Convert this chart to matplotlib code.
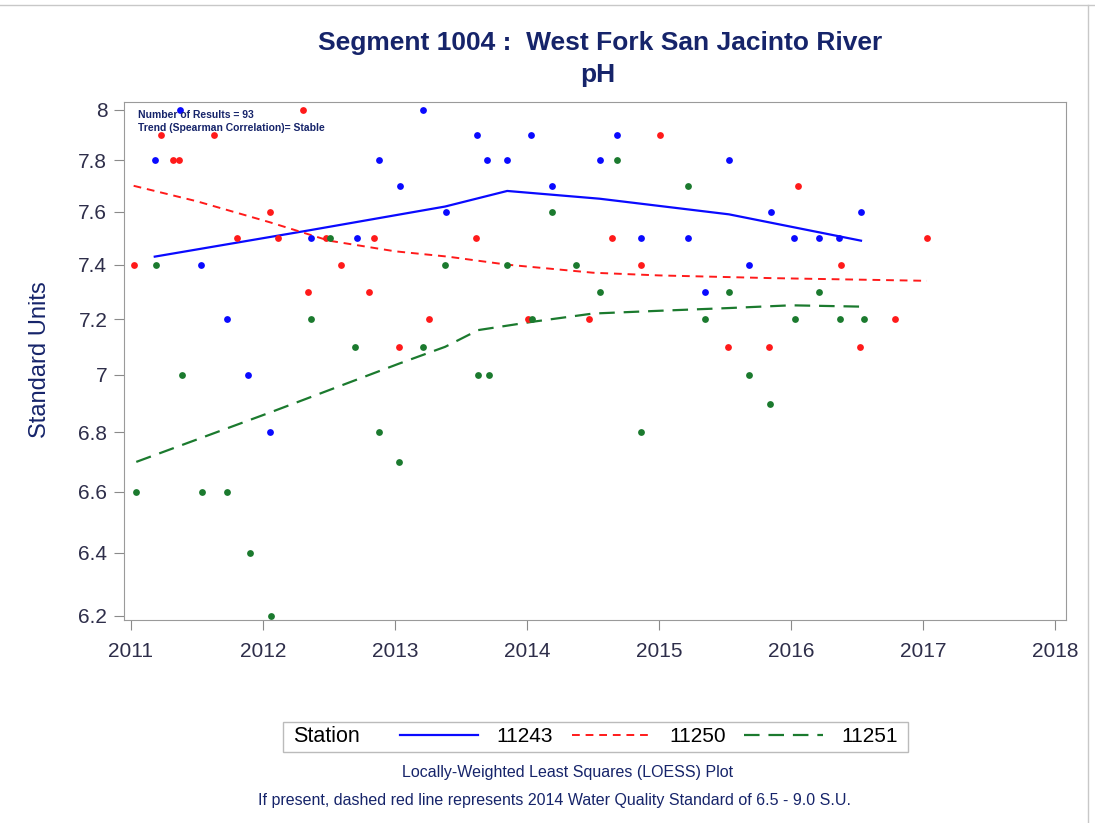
"""
Segment 1004 : West Fork San Jacinto River - pH con curvas LOESS por estacion.
"""
import matplotlib
matplotlib.use("Agg")
import matplotlib.pyplot as plt
from matplotlib.lines import Line2D
from matplotlib.patches import Rectangle
from matplotlib.ticker import FixedLocator, NullLocator

plt.rcParams['font.family'] = ['Liberation Sans', 'DejaVu Sans']

NAVY = '#16246a'

# --- datos (año decimal, pH) ---
fechas_11243 = [2011.18, 2011.37, 2011.53, 2011.73, 2011.89, 2012.05, 2012.36, 2012.71,
                2012.88, 2013.04, 2013.21, 2013.39, 2013.62, 2013.70, 2013.85, 2014.03,
                2014.19, 2014.55, 2014.68, 2014.86, 2015.22, 2015.35, 2015.53, 2015.68,
                2015.85, 2016.02, 2016.21, 2016.36, 2016.53]
ph_11243 = [7.8, 8.0, 7.4, 7.2, 7.0, 6.8, 7.5, 7.5,
            7.8, 7.7, 8.0, 7.6, 7.9, 7.8, 7.8, 7.9,
            7.7, 7.8, 7.9, 7.5, 7.5, 7.3, 7.8, 7.4,
            7.6, 7.5, 7.5, 7.5, 7.6]

fechas_11250 = [2011.02, 2011.23, 2011.32, 2011.36, 2011.63, 2011.80, 2012.05, 2012.11,
                2012.30, 2012.34, 2012.48, 2012.59, 2012.80, 2012.84, 2013.03, 2013.26,
                2013.61, 2014.01, 2014.47, 2014.64, 2014.86, 2015.01, 2015.52, 2015.83,
                2016.05, 2016.38, 2016.52, 2016.79, 2017.03]
ph_11250 = [7.4, 7.9, 7.8, 7.8, 7.9, 7.5, 7.6, 7.5,
            8.0, 7.3, 7.5, 7.4, 7.3, 7.5, 7.1, 7.2,
            7.5, 7.2, 7.2, 7.5, 7.4, 7.9, 7.1, 7.1,
            7.7, 7.4, 7.1, 7.2, 7.5]

fechas_11251 = [2011.04, 2011.19, 2011.39, 2011.54, 2011.73, 2011.90, 2012.06, 2012.36,
                2012.51, 2012.70, 2012.88, 2013.03, 2013.21, 2013.38, 2013.63, 2013.71,
                2013.85, 2014.04, 2014.19, 2014.37, 2014.55, 2014.68, 2014.86, 2015.22,
                2015.35, 2015.53, 2015.68, 2015.84, 2016.03, 2016.21, 2016.37, 2016.55]
ph_11251 = [6.6, 7.4, 7.0, 6.6, 6.6, 6.4, 6.2, 7.2,
            7.5, 7.1, 6.8, 6.7, 7.1, 7.4, 7.0, 7.0,
            7.4, 7.2, 7.6, 7.4, 7.3, 7.8, 6.8, 7.7,
            7.2, 7.3, 7.0, 6.9, 7.2, 7.3, 7.2, 7.2]

# curvas LOESS
loess_x_11243 = [2011.18, 2012.36, 2013.38, 2013.85, 2014.55, 2015.53, 2016.53]
loess_y_11243 = [7.43, 7.53, 7.62, 7.68, 7.65, 7.59, 7.49]

loess_x_11250 = [2011.02, 2011.5, 2012.05, 2012.5, 2013.0, 2013.4, 2013.85, 2014.5,
                 2015.0, 2015.85, 2017.03]
loess_y_11250 = [7.70, 7.64, 7.56, 7.49, 7.45, 7.43, 7.40, 7.37, 7.36, 7.35, 7.34]

loess_x_11251 = [2011.04, 2012.06, 2013.03, 2013.38, 2013.63, 2014.04, 2014.5, 2015.0,
                 2015.53, 2016.0, 2016.55]
loess_y_11251 = [6.70, 6.87, 7.04, 7.10, 7.16, 7.19, 7.22, 7.23, 7.24, 7.25, 7.245]

anios = [2011, 2012, 2013, 2014, 2015, 2016, 2017, 2018]
ticks_y = [6.2, 6.4, 6.6, 6.8, 7.0, 7.2, 7.4, 7.6, 7.8, 8.0]
etiquetas_y = ['6.2', '6.4', '6.6', '6.8', '7', '7.2', '7.4', '7.6', '7.8', '8']

estaciones = ['11243', '11250', '11251']
colores = ['#0a0aff', '#ff1a1a', '#1b7a2e']

fig = plt.figure(figsize=(10.95, 8.23), dpi=100)
ax = fig.add_axes([124 / 1095, 1 - 620 / 823, (1066 - 124) / 1095, (620 - 102) / 823])

ax.scatter(fechas_11243, ph_11243, s=24, color=colores[0], zorder=3, linewidths=0)
ax.scatter(fechas_11250, ph_11250, s=24, color=colores[1], zorder=3, linewidths=0)
ax.scatter(fechas_11251, ph_11251, s=24, color=colores[2], zorder=3, linewidths=0)

l1, = ax.plot(loess_x_11243, loess_y_11243, color=colores[0], lw=1.6, zorder=2)
l2, = ax.plot(loess_x_11250, loess_y_11250, color=colores[1], lw=1.4,
              dashes=(4, 3), zorder=2)
l3, = ax.plot(loess_x_11251, loess_y_11251, color=colores[2], lw=1.6,
              dashes=(7, 4), zorder=2)

ax.set_yscale('log')
ax.set_xlim(2010.947, 2018.083)
ax.set_ylim(6.187, 8.032)
ax.yaxis.set_major_locator(FixedLocator(ticks_y))
ax.yaxis.set_minor_locator(NullLocator())
ax.set_yticklabels(etiquetas_y)
ax.set_xticks(anios)
ax.set_xticklabels([str(a) for a in anios])
ax.tick_params(labelsize=15, labelcolor='#2e2e4a', length=7, color='#8a8a8a')
ax.tick_params(axis='y', pad=5)
ax.tick_params(axis='x', pad=9)
for sp in ax.spines.values():
    sp.set_color('#9a9a9a')

fig.text(40 / 1095, 1 - 360 / 823, 'Standard Units', rotation=90, ha='center',
         va='center', fontsize=17, color=NAVY)

ax.text(0.015, 0.985, 'Number of Results = 93', transform=ax.transAxes,
        fontsize=7.5, fontweight='bold', color=NAVY, va='top')
ax.text(0.015, 0.960, 'Trend (Spearman Correlation)= Stable', transform=ax.transAxes,
        fontsize=7.5, fontweight='bold', color=NAVY, va='top')

fig.text(600 / 1095, 1 - 43 / 823, 'Segment 1004 :  West Fork San Jacinto River',
         ha='center', va='center', fontsize=19, fontweight='bold', color=NAVY)
fig.text(598 / 1095, 1 - 75 / 823, 'pH', ha='center', va='center',
         fontsize=19, fontweight='bold', color=NAVY)

# leyenda manual con caja
fig.patches.append(Rectangle((283 / 1095, 1 - 752 / 823), (908 - 283) / 1095, 30 / 823,
                             transform=fig.transFigure, fill=False,
                             edgecolor='#bbbbbb', lw=1))
fig.text(293 / 1095, 1 - 737 / 823, 'Station', fontsize=15.5, va='center', color='black')
fig.legend([l1, l2, l3], estaciones, loc='center left', ncol=3, frameon=False,
           bbox_to_anchor=(400 / 1095, 1 - 737 / 823), fontsize=15,
           handlelength=3.75, columnspacing=0.9, handletextpad=0.9,
           borderpad=0, borderaxespad=0)

fig.text(568 / 1095, 1 - 773 / 823, 'Locally-Weighted Least Squares (LOESS) Plot',
         ha='center', va='center', fontsize=11.5, color=NAVY)
fig.text(555 / 1095, 1 - 800 / 823,
         'If present, dashed red line represents 2014 Water Quality Standard of 6.5 - 9.0 S.U.',
         ha='center', va='center', fontsize=11.5, color=NAVY)

# marco exterior
fig.add_artist(Line2D([0, 1], [1 - 5 / 823, 1 - 5 / 823], transform=fig.transFigure,
                      color='#c8c8c8', lw=1))
fig.add_artist(Line2D([1088 / 1095, 1088 / 1095], [0, 1 - 5 / 823],
                      transform=fig.transFigure, color='#c8c8c8', lw=1))

fig.savefig('out.png', dpi=100)
